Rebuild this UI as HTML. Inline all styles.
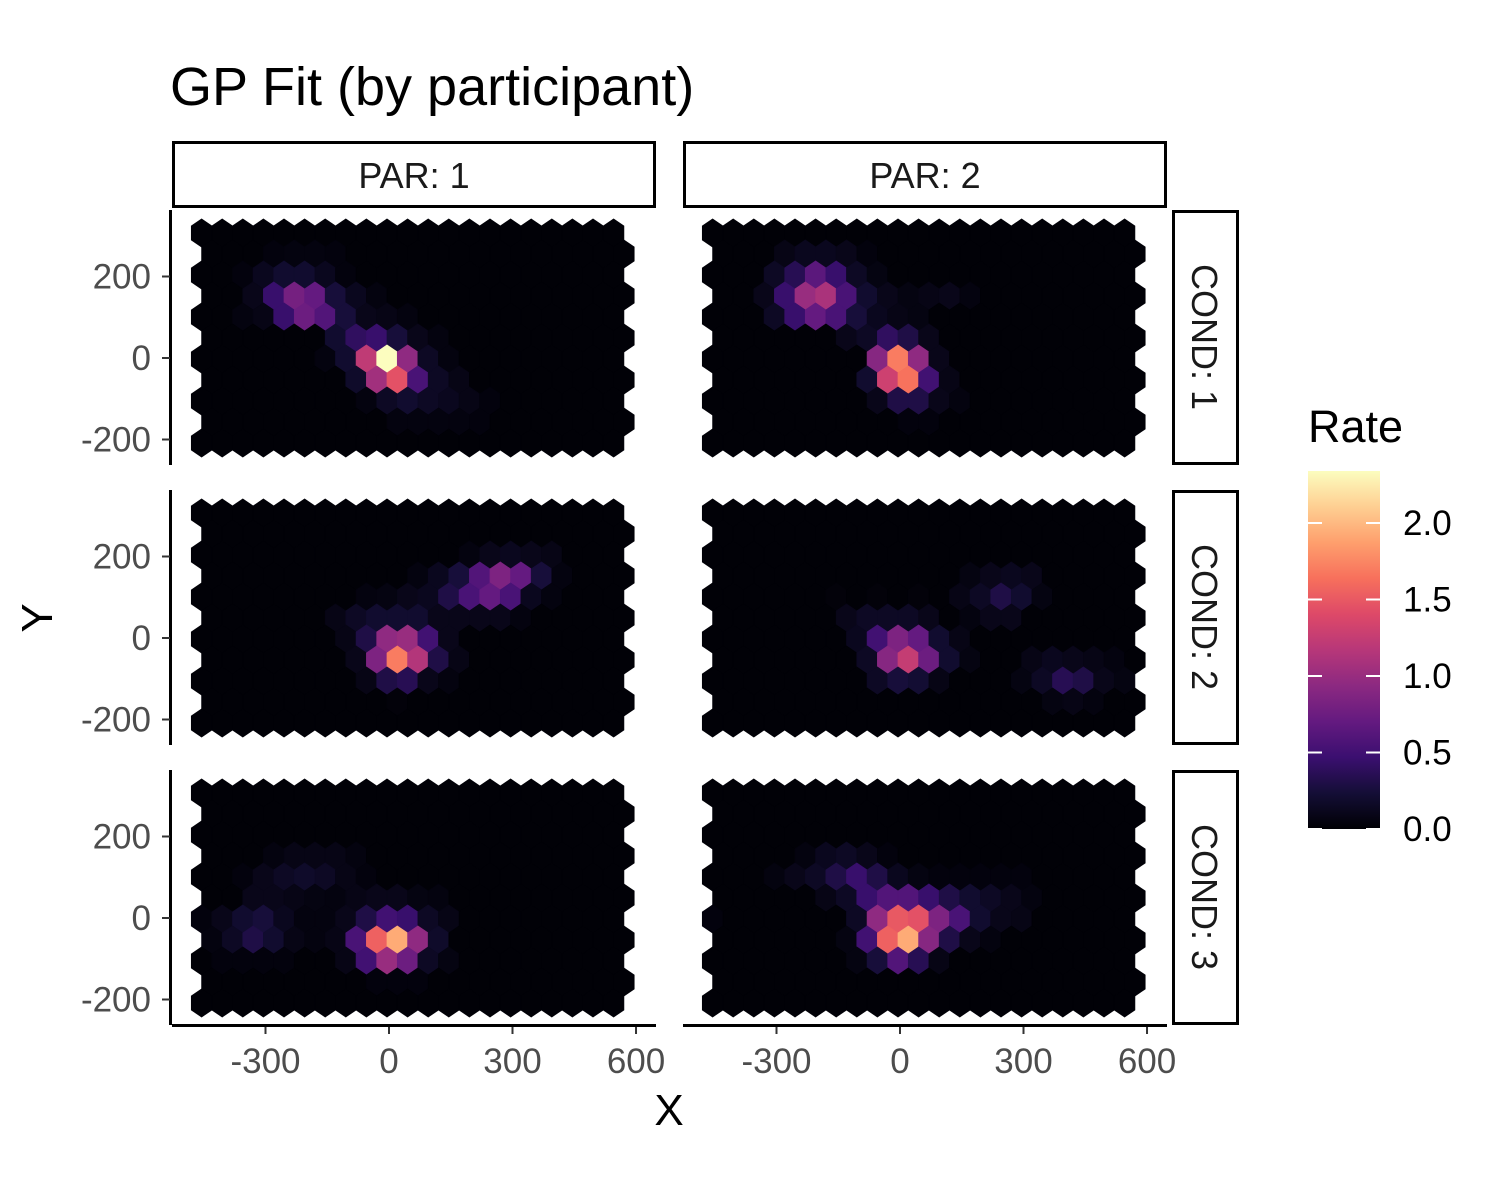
<!DOCTYPE html>
<html><head><meta charset="utf-8"><style>
html,body{margin:0;padding:0;background:#fff;}
svg{display:block;font-family:"Liberation Sans",Arial,sans-serif;}
</style></head><body>
<svg id="chart" width="1500" height="1200" viewBox="0 0 1500 1200" xmlns="http://www.w3.org/2000/svg">
<defs>
<linearGradient id="magma" x1="0" y1="1" x2="0" y2="0">
<stop offset="0" stop-color="#000004"/><stop offset="0.1" stop-color="#140e36"/><stop offset="0.2" stop-color="#3b0f70"/><stop offset="0.3" stop-color="#641a80"/><stop offset="0.4" stop-color="#8c2981"/><stop offset="0.5" stop-color="#b73779"/><stop offset="0.6" stop-color="#de4968"/><stop offset="0.7" stop-color="#f7705c"/><stop offset="0.8" stop-color="#fe9f6d"/><stop offset="0.9" stop-color="#fecf92"/><stop offset="1" stop-color="#fcfdbf"/>
</linearGradient>
</defs>
<text x="170" y="105" font-size="54" fill="#000">GP Fit (by participant)</text>
<g id="panels"></g>
<g id="axes"></g>
<text x="669" y="1125" font-size="44" text-anchor="middle" fill="#000">X</text>
<text transform="translate(52,618) rotate(-90)" font-size="44" text-anchor="middle" fill="#000">Y</text>
<g>
<text x="1308" y="442" font-size="45" fill="#000">Rate</text>
<rect x="1308" y="471" width="72" height="358" fill="url(#magma)"/>
<g id="legendTicks"></g>
</g>
</svg>
<script>
// Hex grid: 21 columns x 11 rows per panel; cells listed as [row, col, rate]
const panelPars = [1, 2, 1, 2, 1, 2];
const panelConds = [1, 1, 2, 2, 3, 3];
const panel1Cells = [[6,9,2.35],[6,8,1.22],[6,10,0.95],[7,8,1.05],[7,9,1.45],[7,10,0.55],[5,7,0.4],[5,8,0.45],[5,9,0.25],[5,10,0.1],[5,6,0.2],[5,11,0.05],
 [4,2,0.05],[4,3,0.08],[4,4,0.45],[4,5,0.75],[4,6,0.6],[4,7,0.25],[4,8,0.1],[4,9,0.08],[4,10,0.05],
 [3,2,0.1],[3,3,0.45],[3,4,0.8],[3,5,0.7],[3,6,0.25],[3,7,0.12],[3,8,0.05],
 [2,2,0.04],[2,3,0.12],[2,4,0.2],[2,5,0.2],[2,6,0.12],[2,7,0.04],[1,3,0.04],[1,4,0.05],[1,5,0.05],[1,6,0.04],
 [7,7,0.18],[7,11,0.15],[7,12,0.08],[6,6,0.05],[6,7,0.2],[6,11,0.15],[6,12,0.05],
 [8,8,0.05],[8,9,0.15],[8,10,0.2],[8,11,0.15],[8,12,0.12],[8,13,0.08],[8,14,0.04],
 [9,9,0.05],[9,10,0.05],[9,11,0.05],[9,12,0.05],[9,13,0.04]];
const panel2Cells = [[6,8,0.9],[6,9,1.7],[6,10,0.95],[6,11,0.1],[7,7,0.2],[7,8,1.3],[7,9,1.65],[7,10,0.5],[7,11,0.08],
 [5,6,0.1],[5,7,0.15],[5,8,0.4],[5,9,0.3],[5,10,0.1],[8,8,0.1],[8,9,0.3],[8,10,0.3],[8,11,0.1],[8,12,0.05],
 [4,3,0.15],[4,4,0.45],[4,5,0.7],[4,6,0.55],[4,7,0.25],[4,8,0.12],[4,9,0.08],[4,10,0.06],
 [3,2,0.1],[3,3,0.45],[3,4,1.0],[3,5,1.1],[3,6,0.55],[3,7,0.2],[3,8,0.1],[3,9,0.06],[3,10,0.08],[3,11,0.1],[3,12,0.05],
 [2,3,0.15],[2,4,0.35],[2,5,0.65],[2,6,0.45],[2,7,0.15],[2,8,0.06],
 [1,3,0.08],[1,4,0.12],[1,5,0.12],[1,6,0.1],[1,7,0.04],[9,9,0.04],[9,10,0.04]];
const panel3Cells = [[6,7,0.08],[6,8,0.3],[6,9,0.95],[6,10,1.0],[6,11,0.5],[6,12,0.1],
 [7,7,0.1],[7,8,0.85],[7,9,1.7],[7,10,1.15],[7,11,0.3],[7,12,0.08],
 [8,8,0.08],[8,9,0.3],[8,10,0.35],[8,11,0.1],[8,12,0.05],
 [5,6,0.08],[5,7,0.15],[5,8,0.2],[5,9,0.2],[5,10,0.2],[5,11,0.1],[5,12,0.1],[5,13,0.1],[5,14,0.1],[5,15,0.05],
 [4,8,0.05],[4,9,0.06],[4,10,0.1],[4,11,0.12],[4,12,0.3],[4,13,0.55],[4,14,0.7],[4,15,0.55],[4,16,0.12],[4,17,0.05],
 [3,10,0.05],[3,11,0.12],[3,12,0.25],[3,13,0.6],[3,14,0.85],[3,15,0.7],[3,16,0.25],[3,17,0.05],
 [2,13,0.05],[2,14,0.1],[2,15,0.12],[2,16,0.1],[2,17,0.08],[9,9,0.03]];
const panel4Cells = [[6,7,0.12],[6,8,0.5],[6,9,0.85],[6,10,0.7],[6,11,0.2],[6,12,0.08],
 [7,7,0.15],[7,8,0.9],[7,9,1.25],[7,10,0.75],[7,11,0.2],[7,12,0.06],[7,15,0.08],[7,16,0.12],[7,17,0.1],[7,18,0.08],[7,19,0.05],
 [8,8,0.15],[8,9,0.25],[8,10,0.22],[8,11,0.08],[8,15,0.06],[8,16,0.15],[8,17,0.35],[8,18,0.3],[8,19,0.1],[8,20,0.06],
 [9,16,0.06],[9,17,0.08],[9,18,0.05],
 [5,6,0.1],[5,7,0.15],[5,8,0.15],[5,9,0.15],[5,10,0.1],[5,12,0.05],[5,13,0.1],[5,14,0.1],
 [4,12,0.08],[4,13,0.15],[4,14,0.3],[4,15,0.2],[4,16,0.06],[4,6,0.03],[4,8,0.03],[4,10,0.03],
 [3,12,0.06],[3,13,0.1],[3,14,0.12],[3,15,0.1]];
const panel5Cells = [[6,0,0.04],[6,1,0.1],[6,2,0.2],[6,3,0.25],[6,4,0.12],[6,5,0.05],[6,6,0.05],[6,7,0.1],[6,8,0.3],[6,9,0.5],[6,10,0.45],[6,11,0.15],[6,12,0.08],
 [7,0,0.05],[7,1,0.15],[7,2,0.3],[7,3,0.2],[7,4,0.08],[7,5,0.05],[7,6,0.08],[7,7,0.55],[7,8,1.55],[7,9,1.93],[7,10,0.95],[7,11,0.18],
 [8,1,0.04],[8,2,0.04],[8,3,0.04],[8,4,0.04],[8,7,0.08],[8,8,0.5],[8,9,1.0],[8,10,0.75],[8,11,0.15],[8,12,0.06],
 [5,2,0.1],[5,3,0.1],[5,4,0.08],[5,5,0.06],[5,6,0.05],[5,7,0.08],[5,8,0.1],[5,9,0.1],[5,10,0.06],[5,11,0.05],
 [4,2,0.04],[4,3,0.1],[4,4,0.15],[4,5,0.18],[4,6,0.15],[4,7,0.08],[4,8,0.04],
 [3,3,0.05],[3,4,0.08],[3,5,0.08],[3,6,0.08],[3,7,0.05],[9,8,0.04],[9,9,0.04],[9,10,0.04]];
const panel6Cells = [[6,0,0.04],[6,7,0.15],[6,8,0.95],[6,9,1.5],[6,10,1.45],[6,11,0.85],[6,12,0.55],[6,13,0.2],[6,14,0.1],[6,15,0.08],
 [7,6,0.06],[7,7,0.5],[7,8,1.55],[7,9,1.93],[7,10,0.9],[7,11,0.3],[7,12,0.1],[7,13,0.05],
 [8,7,0.06],[8,8,0.25],[8,9,0.6],[8,10,0.35],[8,11,0.08],
 [5,5,0.08],[5,6,0.15],[5,7,0.45],[5,8,0.6],[5,9,0.6],[5,10,0.45],[5,11,0.3],[5,12,0.2],[5,13,0.15],[5,14,0.1],[5,15,0.05],
 [4,3,0.05],[4,4,0.1],[4,5,0.15],[4,6,0.3],[4,7,0.45],[4,8,0.3],[4,9,0.12],[4,10,0.06],[4,11,0.04],[4,12,0.04],[4,13,0.04],[4,14,0.04],[4,15,0.04],
 [3,4,0.05],[3,5,0.12],[3,6,0.15],[3,7,0.1],[3,8,0.04]];
const allPanelCells = [panel1Cells, panel2Cells, panel3Cells, panel4Cells, panel5Cells, panel6Cells];
const xTickValues = [-300, 0, 300, 600];
const xTickLabels = ["-300", "0", "300", "600"];
const yTickValues = [200, 0, -200];
const yTickLabels = ["200", "0", "-200"];
const legendTickValues = [0, 0.5, 1, 1.5, 2];
const legendTickLabels = ["0.0", "0.5", "1.0", "1.5", "2.0"];
const rateMax = 2.34;
const backgroundRate = 0.015;

const NS = "http://www.w3.org/2000/svg";
const colOffsets = [0, 511];
const rowOffsets = [0, 280, 560];
function xScale(v, pc) { return 389 + v * 0.4117 + colOffsets[pc]; }
function yScale(v, pr) { return 358 - v * 0.4075 + rowOffsets[pr]; }
function hexX(col, row, pc) { return 201.6 + 20.6 * col + (row % 2 ? 10.3 : 0) + colOffsets[pc]; }
function hexY(row, pr) { return 233 + 21 * row + rowOffsets[pr]; }
function legendY(v) { return 829 - v * 153; }

const magmaStops = ["#000004","#140e36","#3b0f70","#641a80","#8c2981","#b73779","#de4968","#f7705c","#fe9f6d","#fecf92","#fcfdbf"];
function hexToRgb(h) { return [parseInt(h.substr(1,2),16), parseInt(h.substr(3,2),16), parseInt(h.substr(5,2),16)]; }
function magma(v) {
  let t = Math.max(0, Math.min(1, v / rateMax)) * 10;
  const i = Math.min(9, Math.floor(t)); const f = t - i;
  const a = hexToRgb(magmaStops[i]), b = hexToRgb(magmaStops[i+1]);
  return "rgb(" + a.map((c, k) => Math.round(c + (b[k]-c)*f)).join(",") + ")";
}
function el(tag, attrs, parent) {
  const e = document.createElementNS(NS, tag);
  for (const k in attrs) e.setAttribute(k, attrs[k]);
  parent.appendChild(e); return e;
}

const panelsG = document.getElementById("panels");
const axesG = document.getElementById("axes");
allPanelCells.forEach((cells, p) => {
  const pc = p % 2, pr = Math.floor(p / 2);
  const grid = [];
  for (let r = 0; r < 11; r++) { grid.push(new Array(21).fill(backgroundRate)); }
  cells.forEach(c => { grid[c[0]][c[1]] = c[2]; });
  const g = el("g", {}, panelsG);
  
  
  for (let r = 0; r < 11; r++) for (let c = 0; c < 21; c++) {
    const cx = hexX(c, r, pc), cy = hexY(r, pr);
    const w = 10.35, t = 14.1, s = 7.05;
    const pts = [[cx,cy-t],[cx+w,cy-s],[cx+w,cy+s],[cx,cy+t],[cx-w,cy+s],[cx-w,cy-s]].map(q => q[0].toFixed(2)+","+q[1].toFixed(2)).join(" ");
    const col = magma(grid[r][c]);
    const h = el("polygon", {points: pts, fill: col, stroke: col, "stroke-width": 0.6}, g);
    
    
  }
});
[0,1].forEach(pc => {
  const x0 = 172 + colOffsets[pc];
  const r = el("rect", {x: x0 + 1.5, y: 142.5, width: 481, height: 64, fill: "#fff", stroke: "#000", "stroke-width": 3}, axesG);
  
  
  const t = el("text", {x: x0 + 242, y: 188, "font-size": 36, "text-anchor": "middle", fill: "#1a1a1a"}, axesG);
  t.textContent = "PAR: " + (pc+1);
  
  
});
[0,1,2].forEach(pr => {
  const y0 = 210 + rowOffsets[pr];
  const r = el("rect", {x: 1173.5, y: y0 + 1.5, width: 64, height: 252, fill: "#fff", stroke: "#000", "stroke-width": 3}, axesG);
  
  
  const t = el("text", {transform: "translate(1192," + (y0 + 127) + ") rotate(90)", "font-size": 36, "text-anchor": "middle", fill: "#1a1a1a"}, axesG);
  t.textContent = "COND: " + (pr+1);
  
  
});
[0,1,2].forEach(pr => {
  const y0 = 210 + rowOffsets[pr];
  const l = el("line", {x1: 170.5, x2: 170.5, y1: y0, y2: y0 + 255, stroke: "#000", "stroke-width": 3}, axesG);
  
  
  yTickValues.forEach((v, k) => {
    const y = yScale(v, pr);
    const tk = el("line", {x1: 162, x2: 170, y1: y, y2: y, stroke: "#333", "stroke-width": 2}, axesG);
    
    
    const t = el("text", {x: 151, y: y + 12, "font-size": 35, "text-anchor": "end", fill: "#4d4d4d"}, axesG);
    t.textContent = yTickLabels[k];
    
    
  });
});
[0,1].forEach(pc => {
  const x0 = 172 + colOffsets[pc];
  const l = el("line", {x1: x0, x2: x0 + 484, y1: 1025.5, y2: 1025.5, stroke: "#000", "stroke-width": 3}, axesG);
  
  
  xTickValues.forEach((v, k) => {
    const x = xScale(v, pc);
    const tk = el("line", {x1: x, x2: x, y1: 1027, y2: 1034, stroke: "#333", "stroke-width": 2}, axesG);
    
    
    const t = el("text", {x: x, y: 1073, "font-size": 35, "text-anchor": "middle", fill: "#4d4d4d"}, axesG);
    t.textContent = xTickLabels[k];
    
    
  });
});
const lg = document.getElementById("legendTicks");
legendTickValues.forEach((v, k) => {
  const y = legendY(v);
  const a = el("line", {x1: 1308, x2: 1322, y1: y, y2: y, stroke: "#fff", "stroke-width": 2}, lg);
  
  
  const b = el("line", {x1: 1366, x2: 1380, y1: y, y2: y, stroke: "#fff", "stroke-width": 2}, lg);
  
  
  const t = el("text", {x: 1403, y: y + 12, "font-size": 35, fill: "#000"}, lg);
  t.textContent = legendTickLabels[k];
  
  
});
</script>
</body></html>
